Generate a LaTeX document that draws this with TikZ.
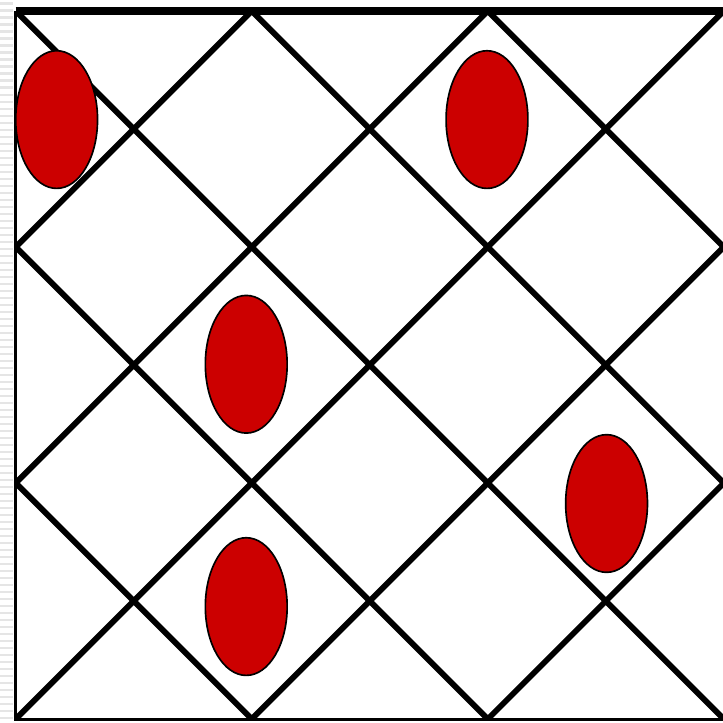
\documentclass[tikz,border=0pt]{standalone}
\usetikzlibrary{shapes.geometric}

\definecolor{tokenred}{HTML}{CC0000}

\begin{document}
\begin{tikzpicture}[
    grid line/.style={line width=2.1pt, black},
    frame line/.style={line width=1.1pt, black},
    token/.style={ellipse, draw=black, line width=0.6pt, fill=tokenred, minimum width=1.04cm, minimum height=1.75cm, inner sep=0pt}
]

\useasboundingbox (-0.2,-0.04) rectangle (8.99,9.14);

% striped margin on the left
\foreach \y in {0.0,0.089,...,9.14}
    \fill[gray!20] (-0.2,\y) rectangle (-0.03,\y+0.03);

% frame
\draw[frame line] (0,9) -- (0,0) -- (9,0);
\draw[line width=3pt] (0,9) -- (9,9);

% diagonal lattice
\begin{scope}
\clip (0,0) rectangle (9,9);
\foreach \c in {-6,-3,0,3,6} {
    \draw[grid line] (0,\c) -- (9,9+\c);
    \draw[grid line] (0,9+\c) -- (9,\c);
}
\end{scope}

% tokens
\node (t1) [token] at (0.52,7.62) {};
\node (t2) [token] at (5.99,7.62) {};
\node (t3) [token] at (2.93,4.51) {};
\node (t4) [token] at (7.51,2.74) {};
\node (t5) [token] at (2.93,1.43) {};

\end{tikzpicture}
\end{document}
